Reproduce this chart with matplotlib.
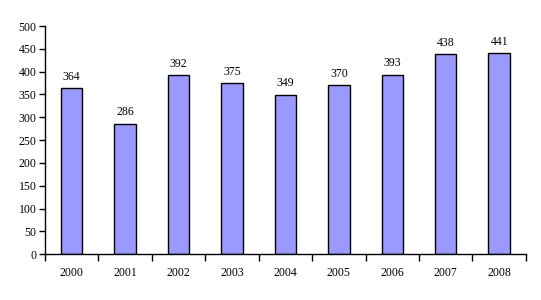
import matplotlib
matplotlib.use("Agg")
import matplotlib.pyplot as plt
import numpy as np

plt.rcParams['font.family'] = ['Liberation Serif', 'DejaVu Serif']

years = ["2000", "2001", "2002", "2003", "2004", "2005", "2006", "2007", "2008"]
values = [364, 286, 392, 375, 349, 370, 393, 438, 441]

fig = plt.figure(figsize=(5.41, 3.0), dpi=100)
ax = fig.add_axes([0.083, 0.153, 0.889, 0.76])

x = np.arange(len(years))
ax.bar(x, values, width=0.4, color="#9999ff", edgecolor="black", linewidth=1.0)
for xi, v in zip(x, values):
	ax.text(xi, v + 12, str(v), ha="center", va="bottom", fontsize=8.5)

ax.set_xlim(-0.5, len(years) - 0.5)
ax.set_ylim(0, 500)
ax.set_yticks(np.arange(0, 501, 50))
ax.tick_params(axis="y", labelsize=8.5, length=4, width=1, direction="out", pad=2)

# category labels centred, tick marks between categories
ax.set_xticks(x)
ax.set_xticklabels(years, fontsize=8.5)
ax.tick_params(axis="x", which="major", length=0, pad=9)
ax.set_xticks(np.arange(-0.5, len(years)), minor=True)
ax.tick_params(axis="x", which="minor", length=5, width=1, direction="out")

for side in ["top", "right"]:
	ax.spines[side].set_visible(False)
ax.spines["left"].set_linewidth(1)
ax.spines["bottom"].set_linewidth(1)

fig.savefig("out.png", dpi=100)
